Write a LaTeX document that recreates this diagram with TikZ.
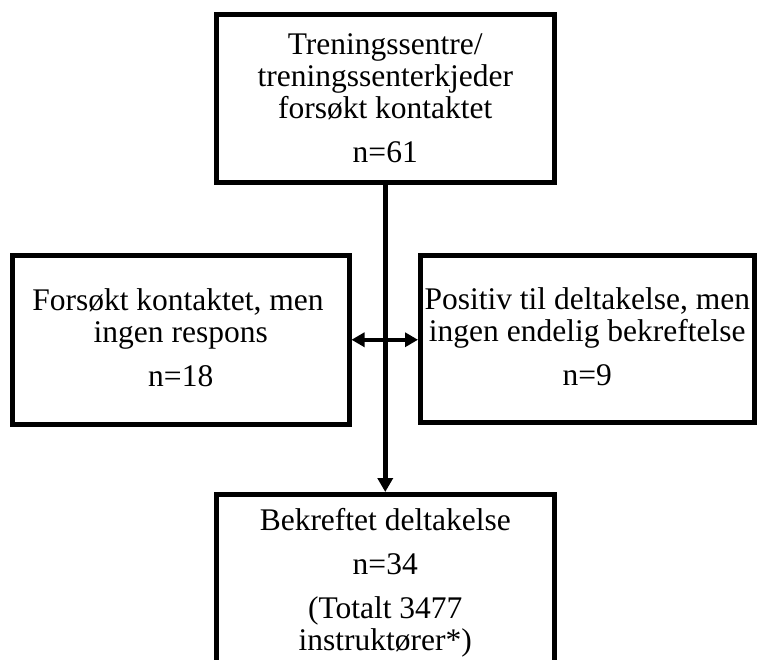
\documentclass[tikz,border=0pt]{standalone}
\usepackage{fontspec}
\setmainfont{Liberation Serif}
\usetikzlibrary{arrows.meta}
\begin{document}
\begin{tikzpicture}[x=1pt,y=-1pt,
  box/.style={draw=black,line width=5pt,fill=white,inner sep=0pt},
  txt/.style={font=\fontsize{31.5}{32}\selectfont,inner sep=0pt,anchor=base},
  conn/.style={draw=black,line width=5pt},
  tipv/.style={-{Triangle[length=14pt,width=15pt]}},
  tiph/.style={{Triangle[length=13pt,width=14pt]}-{Triangle[length=13pt,width=14pt]}}]
\fill[white] (0,0) rectangle (759,659);
\useasboundingbox (0,0) rectangle (759,659);
% boxes
\node[box,minimum width=337.5pt,minimum height=168.5pt] (top) at (385.25,98.25) {};
\node[box,minimum width=336.5pt,minimum height=168.5pt] (left) at (180.75,339.75) {};
\node[box,minimum width=333.5pt,minimum height=167.5pt] (right) at (587.25,338.75) {};
\node[box,minimum width=337.5pt,minimum height=168.5pt] (bottom) at (385.25,578.75) {};
% connectors
\draw[conn,tipv] (top.south) -- (bottom.north);
\draw[conn,line width=3.5pt,tiph] (left.east) -- (left.east -| right.west);
% texts
\node[txt] (t1) at (385.25,54) {Treningssentre/};
\node[txt] (t2) at (385.25,86) {treningssenterkjeder};
\node[txt] (t3) at (385.25,118) {forsøkt kontaktet};
\node[txt] (t4) at (385.25,162) {n=61};
\node[txt] (l1) at (178,310) {Forsøkt kontaktet, men};
\node[txt] (l2) at (180.75,342) {ingen respons};
\node[txt] (l3) at (180.75,386) {n=18};
\node[txt] (r1) at (587.25,309) {Positiv til deltakelse, men};
\node[txt] (r2) at (587.25,341) {ingen endelig bekreftelse};
\node[txt] (r3) at (587.25,385) {n=9};
\node[txt] (b1) at (385.25,530) {Bekreftet deltakelse};
\node[txt] (b2) at (385.25,574) {n=34};
\node[txt] (b3) at (385.25,618) {(Totalt 3477};
\node[txt] (b4) at (385.25,650) {instruktører*)};
\end{tikzpicture}
\end{document}
